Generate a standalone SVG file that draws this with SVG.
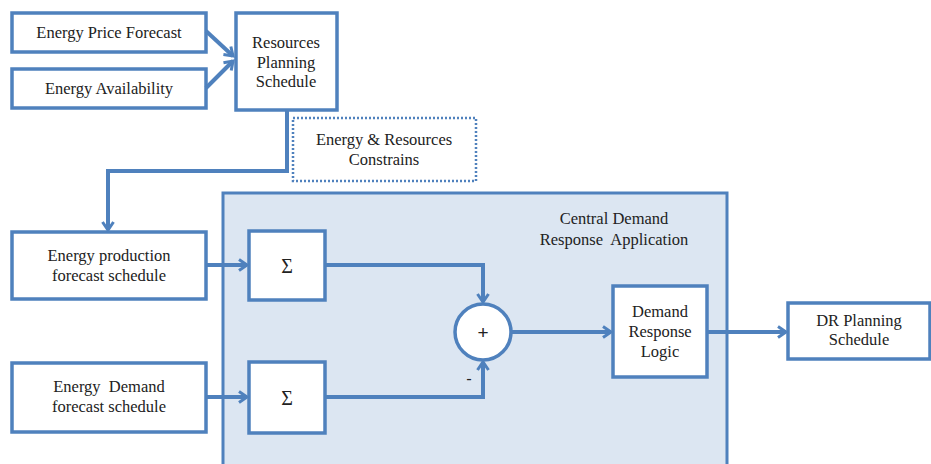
<svg xmlns="http://www.w3.org/2000/svg" width="931" height="464" viewBox="0 0 931 464">
<defs>
<style>
.box{fill:#fff;stroke:#4f81bd;stroke-width:3.5}
.lbl{font-family:"Liberation Serif",serif;font-size:16.5px;fill:#222;text-anchor:middle;white-space:pre}
.con{fill:none;stroke:#4f81bd;stroke-width:4}
</style>
<marker id="arr" markerWidth="14" markerHeight="14" refX="10" refY="7" orient="auto" markerUnits="userSpaceOnUse">
<path d="M2,1.5 L10,7 L2,12.5" fill="none" stroke="#4f81bd" stroke-width="3"/>
</marker>
</defs>
<rect width="931" height="464" fill="#fff"/>
<g id="central">
<rect x="223" y="193" width="504" height="280" fill="#dce6f2" stroke="#4f81bd" stroke-width="3"/>
<text class="lbl" x="614" y="224">Central Demand</text>
<text class="lbl" x="614" y="245" xml:space="preserve">Response  Application</text>
</g>
<g id="price">
<rect class="box" x="12" y="13" width="194" height="39"/>
<text class="lbl" x="109" y="38">Energy Price Forecast</text>
</g>
<g id="avail">
<rect class="box" x="12" y="69" width="194" height="39"/>
<text class="lbl" x="109" y="94">Energy Availability</text>
</g>
<g id="rps">
<rect class="box" x="236" y="13" width="101" height="97"/>
<text class="lbl" x="286" y="48">Resources</text>
<text class="lbl" x="286" y="68">Planning</text>
<text class="lbl" x="286" y="87">Schedule</text>
</g>
<g id="constr">
<rect x="293" y="118" width="183" height="63" fill="#fff" stroke="#4f81bd" stroke-width="2.5" stroke-dasharray="2 2"/>
<text class="lbl" x="384" y="145">Energy &amp; Resources</text>
<text class="lbl" x="384" y="165">Constrains</text>
</g>
<g id="prod">
<rect class="box" x="12" y="232" width="194" height="67"/>
<text class="lbl" x="109" y="261">Energy production</text>
<text class="lbl" x="109" y="281">forecast schedule</text>
</g>
<g id="demand">
<rect class="box" x="12" y="363" width="194" height="69"/>
<text class="lbl" x="109" y="392" xml:space="preserve">Energy  Demand</text>
<text class="lbl" x="109" y="412">forecast schedule</text>
</g>
<g id="sum1">
<rect class="box" x="249" y="231" width="76" height="69"/>
<text class="lbl" x="287" y="273" style="font-size:20px">Σ</text>
</g>
<g id="sum2">
<rect class="box" x="249" y="362" width="76" height="71"/>
<text class="lbl" x="287" y="405" style="font-size:20px">Σ</text>
</g>
<g id="plus">
<circle cx="483" cy="332" r="28" fill="#fff" stroke="#4f81bd" stroke-width="3.5"/>
<text class="lbl" x="483" y="339" style="font-family:'Liberation Sans',sans-serif;font-size:19px">+</text>
<text class="lbl" x="469" y="384" style="font-family:'Liberation Sans',sans-serif">-</text>
</g>
<g id="drl">
<rect class="box" x="613" y="286" width="94" height="91"/>
<text class="lbl" x="660" y="317">Demand</text>
<text class="lbl" x="660" y="337">Response</text>
<text class="lbl" x="660" y="357">Logic</text>
</g>
<g id="drp">
<rect class="box" x="788" y="303" width="142" height="56"/>
<text class="lbl" x="859" y="326">DR Planning</text>
<text class="lbl" x="859" y="345">Schedule</text>
</g>
<g id="connectors">
<path class="con" d="M206,31 L233,56" marker-end="url(#arr)"/>
<path class="con" d="M206,88 L233,61" marker-end="url(#arr)"/>
<path class="con" d="M287,110 V171 H108 V230" marker-end="url(#arr)"/>
<path class="con" d="M206,265 H247" marker-end="url(#arr)"/>
<path class="con" d="M206,397 H247" marker-end="url(#arr)"/>
<path class="con" d="M325,265 H483 V302" marker-end="url(#arr)"/>
<path class="con" d="M325,397 H483 V362" marker-end="url(#arr)"/>
<path class="con" d="M511,332 H611" marker-end="url(#arr)"/>
<path class="con" d="M707,332 H786" marker-end="url(#arr)"/>
</g>
</svg>
